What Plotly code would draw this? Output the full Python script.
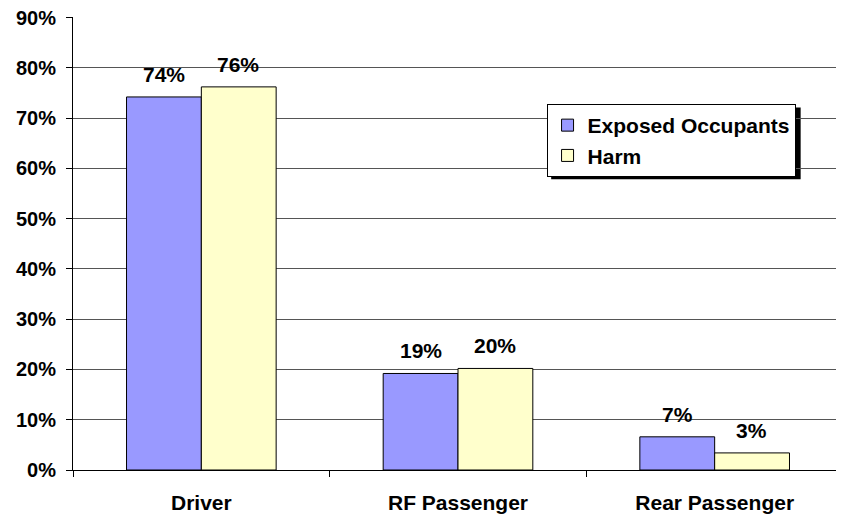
import plotly.graph_objects as go

categories = ["Driver", "RF Passenger", "Rear Passenger"]
exposed = [74.2, 19.2, 6.6]
harm = [76.2, 20.2, 3.4]
exposed_labels = ["74%", "19%", "7%"]
harm_labels = ["76%", "20%", "3%"]
y_ticks = [0, 10, 20, 30, 40, 50, 60, 70, 80, 90]
y_tick_labels = [f"{v}%" for v in y_ticks]

FONT = "Liberation Sans, Arial, sans-serif"

fig = go.Figure()
fig.add_trace(go.Bar(
    x=categories, y=exposed, name="<b>Exposed Occupants</b>",
    marker=dict(color="#9999FF", line=dict(color="black", width=1)),
))
fig.add_trace(go.Bar(
    x=categories, y=harm, name="<b>Harm</b>",
    marker=dict(color="#FFFFCC", line=dict(color="black", width=1)),
))

annotations = []
for cat, v, t in zip(categories, exposed, exposed_labels):
    annotations.append(dict(x=cat, y=v, xref="x", yref="y", text=f"<b>{t}</b>",
                            showarrow=False, xshift=-37, yshift=9, yanchor="bottom",
                            font=dict(family=FONT, size=21, color="black")))
for cat, v, t in zip(categories, harm, harm_labels):
    annotations.append(dict(x=cat, y=v, xref="x", yref="y", text=f"<b>{t}</b>",
                            showarrow=False, xshift=37, yshift=9, yanchor="bottom",
                            font=dict(family=FONT, size=21, color="black")))

# page has an 8px body margin; size the figure so it fills the 844x516 window
fig.update_layout(
    width=836, height=508,
    margin=dict(l=65, r=1, t=9, b=46),
    paper_bgcolor="white", plot_bgcolor="white",
    barmode="group", bargap=0.417, bargroupgap=0,
    font=dict(family=FONT, size=20, color="black"),
    showlegend=True,
    legend=dict(
        x=0.615, y=0.808, xanchor="left", yanchor="top",
        bgcolor="white", bordercolor="black", borderwidth=1,
        font=dict(family=FONT, size=21, color="black"),
        itemwidth=30, tracegroupgap=0,
    ),
    annotations=annotations,
    shapes=[dict(
        type="rect", xref="paper", yref="paper",
        x0=0.621, x1=0.945, y0=0.642, y1=0.80,
        fillcolor="black", line=dict(width=0), layer="below",
    )],
)
fig.update_xaxes(
    showline=True, linecolor="black", linewidth=1, automargin=False,
    ticks="outside", tickson="boundaries", ticklen=6, tickcolor="black",
    tickfont=dict(family=FONT, size=21, color="black"),
    tickprefix="<b>", ticksuffix="</b>", showgrid=False,
    ticklabelstandoff=14,
)
fig.update_yaxes(
    range=[0, 90.1], tickvals=y_ticks, automargin=False,
    ticktext=[f"<b>{t}</b>" for t in y_tick_labels],
    showline=True, linecolor="black", linewidth=1,
    ticks="outside", ticklen=6, tickcolor="black",
    showgrid=True, gridcolor="#555555", gridwidth=1,
    tickfont=dict(family=FONT, size=20, color="black"),
    zeroline=False, ticklabelstandoff=6, ticklabeloverflow="allow",
)

fig.write_html("out.html")
